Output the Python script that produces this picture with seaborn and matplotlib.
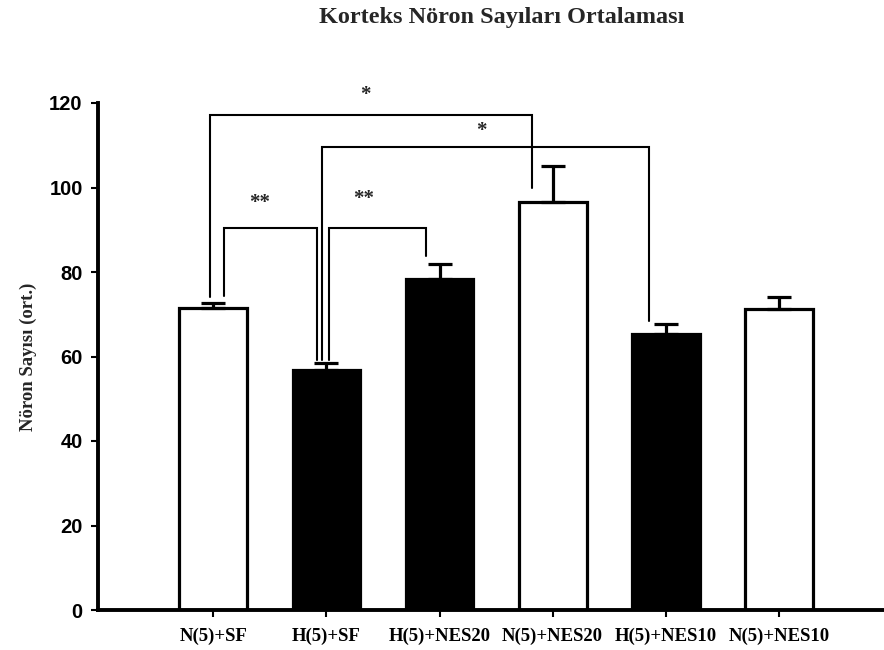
import matplotlib
matplotlib.use("Agg")
import matplotlib.pyplot as plt
import seaborn as sns
import numpy as np

# Mean cortical neuron counts per group with their upper error (SEM)
groups = ["N(5)+SF", "H(5)+SF", "H(5)+NES20", "N(5)+NES20", "H(5)+NES10", "N(5)+NES10"]
means = [71.4, 56.8, 78.3, 96.6, 65.3, 71.2]
sem = [1.3, 1.6, 3.5, 8.4, 2.4, 2.8]
fills = ["white", "black", "black", "white", "black", "white"]
yticks = [0, 20, 40, 60, 80, 100, 120]

# Significance comparisons: (left group, right group, label)
comparisons = [(0, 3, "*"), (1, 4, "*"), (0, 1, "**"), (1, 2, "**")]
# Bracket geometry: left/right x offsets from the group centres, bar height,
# end heights of the left and right legs, and label position
bracket_layout = [
    dict(dl=-0.03, dr=-0.18, top=117.2, yl=74.2, yr=100.0, tx=1.34, ty=121.9),
    dict(dl=-0.036, dr=-0.15, top=109.5, yl=59.2, yr=68.5, tx=2.37, ty=113.4),
    dict(dl=0.098, dr=-0.086, top=90.5, yl=74.3, yr=59.2, tx=0.41, ty=96.4),
    dict(dl=0.023, dr=-0.12, top=90.5, yl=59.2, yr=83.8, tx=1.33, ty=97.2),
]

sns.set_style("white")
plt.rcParams["font.family"] = ["Liberation Serif", "DejaVu Serif"]

fig = plt.figure(figsize=(8.84, 6.5), dpi=100)
ax = fig.add_axes([98 / 884, 1 - 610 / 650, 1 - 98 / 884, (610 - 103) / 650])

sns.barplot(x=groups, y=means, hue=groups, palette=fills, legend=False,
            edgecolor="black", linewidth=2.3, width=0.6, saturation=1, ax=ax)

ax.errorbar(np.arange(len(groups)), means, yerr=[np.zeros(len(sem)), sem],
            fmt="none", ecolor="black", elinewidth=2.3, capsize=8.5,
            capthick=2.3, zorder=4)

for (i, j, label), g in zip(comparisons, bracket_layout):
    xl, xr = i + g["dl"], j + g["dr"]
    ax.plot([xl, xl, xr, xr], [g["yl"], g["top"], g["top"], g["yr"]],
            color="black", lw=1.5, clip_on=False, zorder=5,
            solid_joinstyle="miter")
    ax.text(g["tx"], g["ty"], label, ha="center", va="center",
            fontsize=15, fontweight="bold", clip_on=False)

ax.set_xlim(-1.02, 5.93)
ax.set_ylim(0, 120)
ax.set_yticks(yticks)
ax.set_yticklabels([str(v) for v in yticks], family="Liberation Sans",
                   fontweight="bold", fontsize=14.5)
ax.set_xticks(np.arange(len(groups)))
ax.set_xticklabels(groups, fontweight="bold", fontsize=13.5)

for side in ["top", "right"]:
    ax.spines[side].set_visible(False)
for side in ["left", "bottom"]:
    ax.spines[side].set_linewidth(2.8)
    ax.spines[side].set_color("black")

ax.tick_params(axis="y", direction="out", length=5, width=1.5, pad=6,
               left=True, colors="black")
ax.tick_params(axis="x", direction="out", length=5, width=1.5, pad=8,
               bottom=True, colors="black")

ax.set_ylabel("Nöron Sayısı (ort.)", fontweight="bold", fontsize=13.5)
ax.yaxis.set_label_coords((37 - 98) / 786, 0.5)

fig.text(502 / 884, 1 - 18 / 650, "Korteks Nöron Sayıları Ortalaması",
         ha="center", va="center", fontweight="bold", fontsize=17.5)

fig.savefig("out.png", dpi=100)
